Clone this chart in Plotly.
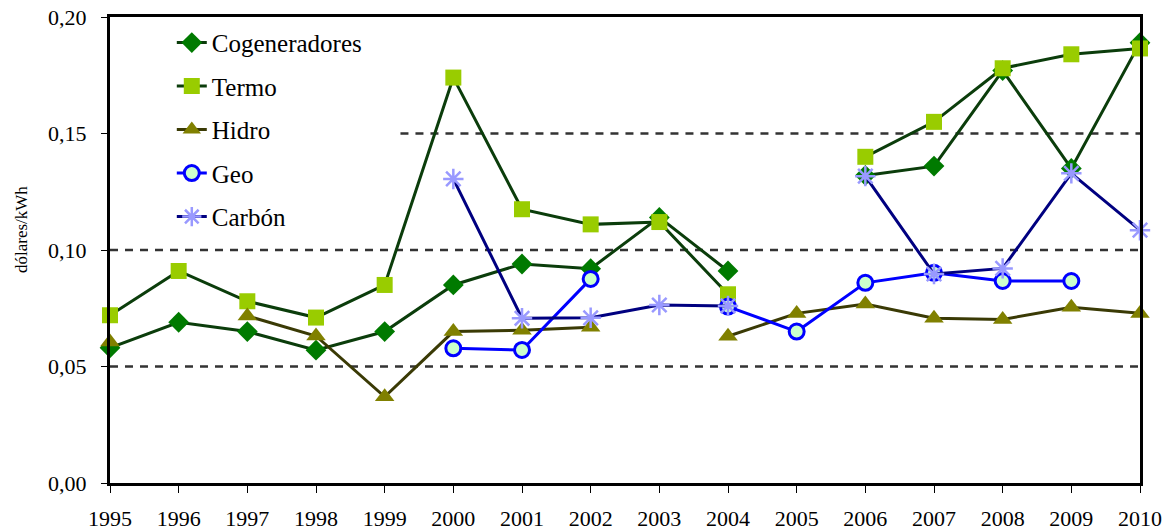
import plotly.graph_objects as go

years = list(range(1995, 2011))
cogeneradores = [0.058, 0.069, 0.065, 0.057, 0.065, 0.085, 0.094, 0.092, 0.114, 0.091, None,
                 0.132, 0.136, 0.177, 0.135, 0.189]
termo = [0.072, 0.091, 0.078, 0.071, 0.085, 0.174, 0.1175, 0.111, 0.112, 0.081, None,
         0.140, 0.155, 0.178, 0.184, 0.1865]
hidro = [0.0605, None, 0.0717, 0.0631, 0.037, 0.065, 0.0656, 0.0668, None, 0.063, 0.0728,
         0.0768, 0.0707, 0.0702, 0.0754, 0.0728]
geo = [None, None, None, None, None, 0.0578, 0.0571, 0.0876, None, 0.0757, 0.0650,
       0.0859, 0.0902, 0.0867, 0.0867, None]
carbon = [None, None, None, None, None, 0.1305, 0.0707, 0.0709, 0.0764, 0.0760, None,
          0.1317, 0.0897, 0.0921, 0.1329, 0.1085]
y_ticks = [0.0, 0.05, 0.10, 0.15, 0.20]
grid_levels = [0.05, 0.10, 0.15]

FONT = "Liberation Serif"

series = [
    ("Cogeneradores", cogeneradores, "#0b3d0b", dict(symbol="diamond", size=16, color="#007a00")),
    ("Termo", termo, "#0b3d0b", dict(symbol="square", size=16, color="#99cc00")),
    ("Hidro", hidro, "#3a3a05", dict(symbol="triangle-up", size=17, color="#808000")),
    ("Geo", geo, "#0000ff", dict(symbol="circle", size=15, color="#ccffcc",
                                 line=dict(color="#0000ff", width=3))),
    ("Carbón", carbon, "#000080", dict(symbol="asterisk", size=17, color="#9999ff",
                                       line=dict(color="#9999ff", width=2.5))),
]

fig = go.Figure()
for i, (name, vals, lc, mk) in enumerate(series):
    fig.add_trace(go.Scatter(
        x=years, y=vals, name=name, mode="lines+markers",
        line=dict(color=lc, width=3), marker=mk,
        connectgaps=False, cliponaxis=False, legendgroup=f"g{i}",
    ))

# dashed gridlines (the 0.15 one is hidden behind the legend on the left)
for lv in grid_levels:
    fig.add_shape(type="line", xref="paper", yref="y",
                  x0=0.282 if lv == 0.15 else 0.0, x1=1.0, y0=lv, y1=lv,
                  line=dict(color="#333333", width=2.5, dash="8px,7px"), layer="below")

# y-axis title
fig.add_annotation(x=-0.0854, y=0.543, xref="paper", yref="paper", text="dólares/kWh",
                   textangle=-90, showarrow=False, xanchor="center", yanchor="middle",
                   font=dict(family=FONT, size=17, color="black"))

fig.update_layout(
    width=1169, height=531,
    margin=dict(l=110, r=29, t=17, b=48),
    paper_bgcolor="white", plot_bgcolor="white",
    separators=", ",
    font=dict(family=FONT, color="black"),
    showlegend=True,
    legend=dict(x=0.060, y=0.994, xanchor="left", yanchor="top",
                bgcolor="rgba(255,255,255,0)", font=dict(family=FONT, size=25),
                tracegroupgap=8, itemwidth=30),
    xaxis=dict(range=[1995, 2010], tickmode="array", tickvals=years,
               ticktext=[str(y) for y in years], showgrid=False, zeroline=False,
               showline=True, linecolor="black", linewidth=3, mirror=True,
               ticks="outside", ticklen=7, tickcolor="black", tickwidth=1,
               ticklabelstandoff=7, automargin=False,
               tickfont=dict(family=FONT, size=22)),
    yaxis=dict(range=[0, 0.20], tickmode="array", tickvals=y_ticks,
               tickformat=".2f", showgrid=False, zeroline=False,
               showline=True, linecolor="black", linewidth=3, mirror=True,
               ticks="outside", ticklen=6, tickcolor="black", tickwidth=1,
               ticklabelstandoff=10, automargin=False,
               tickfont=dict(family=FONT, size=22)),
)

fig.write_html("out.html", config={"displayModeBar": False},
               post_script="document.body.style.margin='0';")
